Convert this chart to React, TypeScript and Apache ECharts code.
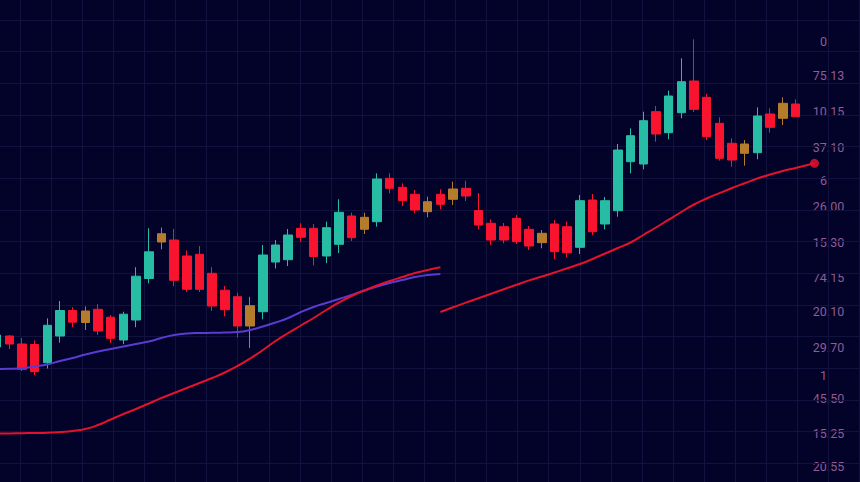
import React, { useEffect, useRef } from "react";
import * as echarts from "echarts";

// ---- data (prices on an arbitrary scale) ----
const sessions: string[] = Array.from({ length: 68 }, (_, i) => `S${i + 1}`);

const opens = [135, 146, 138, 137.5, 119.3, 146, 171.5, 159.5, 172.7, 164.8, 142, 162, 203.5, 240, 242, 226, 227.7, 208.7, 191.8, 185.3, 156, 170.3, 220, 222.3, 253.7, 253.7, 226, 237.7, 266, 252.7, 260.3, 303.7, 294.7, 287.7, 270.3, 287.7, 282.7, 293.7, 271.5, 258.7, 255.3, 263.7, 252.7, 239.3, 258, 255.3, 234.7, 282, 258, 271.3, 320.3, 318, 370.3, 349.3, 369.3, 401, 384.7, 358.7, 338.7, 328.7, 329.3, 368, 363.7, 378];
const closes = [147, 138, 112.7, 110.3, 156.7, 171.5, 159.8, 171, 151, 143.7, 167.8, 205.8, 230.2, 248.3, 201.7, 192.7, 192.7, 176, 172.3, 156, 176.3, 227, 237, 247, 244.7, 225.5, 254.3, 269.7, 244.3, 264.7, 303, 293.7, 281.3, 272, 280.3, 277.7, 293, 286, 257, 242, 242, 240.3, 236, 248.7, 230.3, 229.3, 281.3, 250.3, 281.3, 332, 346.3, 361.3, 348, 386, 400.3, 372.7, 345.3, 323.7, 322, 338, 366, 354.7, 378.7, 365.3];
const lows = [132, 133, 111, 107, 113.5, 139.3, 154.8, 152, 147, 139, 137.8, 154.8, 198.7, 232.7, 195.7, 190, 190, 171, 165.7, 144.5, 134, 162.7, 213.5, 216, 240.3, 216.5, 218.8, 229, 241, 248, 255.3, 288.7, 276, 268.7, 264.7, 272.7, 277, 281, 252.5, 237, 238.7, 238, 232, 233.7, 222.7, 224.7, 228, 247, 252.7, 265.3, 308.7, 312.7, 340.3, 342.7, 363.7, 370, 342, 321.3, 315.3, 316.3, 322.7, 349.3, 357, 365];
const highs = [151, 147, 144, 141.5, 163.7, 181, 174.8, 175.5, 177.8, 167, 170.3, 214.8, 253.7, 254.5, 253.2, 231.5, 236, 214.8, 196, 189.3, 185.2, 237, 242, 253, 258.7, 258, 260.3, 282.7, 269.3, 269.3, 308.7, 308.7, 298.7, 292, 285.3, 292.7, 300.3, 301.3, 289, 262.7, 259, 267, 256, 252, 262, 260.3, 287, 288, 285, 338, 353.7, 370.3, 376, 391.3, 423.7, 442.7, 388, 364.7, 343.7, 342, 374.7, 373.7, 384.7, 382.7];
// sessions drawn as neutral (gold) candles
const neutralSessions = [7, 13, 20, 29, 34, 36, 43, 59, 62];

// slow moving average (sessions 0..35)
const maSlow = [113, 113.2, 113.7, 115.5, 117.5, 121, 124, 127.5, 130.5, 133, 135.5, 138, 140.5, 144, 147, 148.5, 149, 149.2, 149.5, 150, 152, 155.5, 159.5, 164, 170, 175, 179, 183, 187, 191.5, 195.5, 199, 202, 205, 207, 208];
// fast moving average, first part (sessions 0..35)
const maFastA = [48.5, 48.6, 48.8, 49, 49.3, 50, 51, 53, 57, 62.5, 68, 73, 78.5, 84, 89, 94, 99, 104, 109.5, 116, 123.5, 132, 141, 149, 156.5, 164, 172, 179.5, 186, 191.5, 196.5, 201, 205, 209, 212, 214.7];
// fast moving average, second part: [session, value]
const maFastB: [number, number][] = [
  [35, 170], [36, 174.7], [37, 179.4], [38, 183.8], [39, 188.3], [40, 192.8], [41, 197.2], [42, 201.6], [43, 205.5], [44, 209.5],
  [45, 213.8], [46, 218], [47, 223], [48, 228.5], [49, 234], [50, 239.5], [51, 247], [52, 254.5], [53, 262.3], [54, 270],
  [55, 277.5], [56, 283.5], [57, 288.8], [58, 294], [59, 298.8], [60, 303.5], [61, 307.5], [62, 311], [63, 314], [64.5, 318.7],
];

// price scale texts on the right
const scaleLabels = ["0", "75.13", "10.15", "37.10", "6", "26.00", "15.30", "74.15", "20.10", "29.70", "1", "45.50", "15.25", "20.55"];
const scaleLabelY = [41, 75, 111.7, 147.7, 180.5, 206, 242.3, 277.7, 311.7, 347.7, 375.8, 398.3, 433.3, 466.7];

const UP = "#27bda4";
const DOWN = "#f8142e";
const NEUTRAL = "#b57c2b";
const BG = "#030228";
const GRIDLINE = "#12123e";

export default function App() {
  const ref = useRef<HTMLDivElement>(null);
  useEffect(() => {
    if (!ref.current) return;
    document.body.style.margin = "0";
    document.body.style.background = BG;
    const chart = echarts.init(ref.current, null, { renderer: "svg" });

    const slot = 12.68;
    const firstCenter = -3.4;
    const candleData = opens.map((o, i) => {
      const item: any = { value: [o, closes[i], lows[i], highs[i]] };
      if (neutralSessions.includes(i)) {
        item.itemStyle = { color: NEUTRAL, color0: NEUTRAL, borderColor: NEUTRAL, borderColor0: NEUTRAL };
      }
      return item;
    });

    const gx = 31.1;
    const gy = 31.66;

    const option: any = {
      animation: false,
      backgroundColor: BG,
      grid: [
        { left: firstCenter - slot / 2, top: 0, width: slot * sessions.length, height: 482, outerBoundsMode: "none", containLabel: false },
        { left: 20 - gx, top: 20 - gy, width: gx * 29, height: gy * 16, outerBoundsMode: "none", containLabel: false },
      ],
      xAxis: [
        { type: "category", gridIndex: 0, data: sessions, boundaryGap: true, show: false },
        { type: "value", gridIndex: 0, min: -0.5, max: sessions.length - 0.5, show: false },
        {
          type: "value", gridIndex: 1, min: 0, max: 29, interval: 1,
          axisLine: { show: false }, axisTick: { show: false }, axisLabel: { show: false },
          splitLine: { show: true, lineStyle: { color: GRIDLINE, width: 1 } },
        },
      ],
      yAxis: [
        { type: "value", gridIndex: 0, min: 0, max: 482, show: false },
        {
          type: "value", gridIndex: 1, min: 0, max: 16, interval: 1,
          axisLine: { show: false }, axisTick: { show: false }, axisLabel: { show: false },
          splitLine: { show: true, lineStyle: { color: GRIDLINE, width: 1 } },
        },
      ],
      series: [
        {
          type: "candlestick",
          xAxisIndex: 0,
          yAxisIndex: 0,
          data: candleData,
          barWidth: 9,
          itemStyle: { color: UP, color0: DOWN, borderColor: UP, borderColor0: DOWN, borderWidth: 1 },
        },
        {
          type: "line", xAxisIndex: 1, yAxisIndex: 0, smooth: true, symbol: "none",
          data: maSlow.map((v, i) => [i, v]),
          lineStyle: { color: "#5a3bd2", width: 2 },
        },
        {
          type: "line", xAxisIndex: 1, yAxisIndex: 0, smooth: true, symbol: "none",
          data: maFastA.map((v, i) => [i, v]),
          lineStyle: { color: "#e3122e", width: 2 },
        },
        {
          type: "line", xAxisIndex: 1, yAxisIndex: 0, smooth: true, symbol: "none",
          data: maFastB,
          lineStyle: { color: "#e3122e", width: 2 },
        },
        {
          type: "scatter", xAxisIndex: 1, yAxisIndex: 0,
          data: [maFastB[maFastB.length - 1]],
          symbolSize: 9,
          itemStyle: { color: "#f0142e" },
        },
      ],
      graphic: scaleLabels.map((t, k) => ({
        type: "text",
        x: t.length === 1 ? 823.5 : 828.5,
        y: scaleLabelY[k],
        style: {
          text: t,
          fill: "#8e5c96",
          font: "12.5px Roboto",
          textAlign: "center",
          textVerticalAlign: "middle",
          align: "center",
          verticalAlign: "middle",
        },
      })),
    };
    chart.setOption(option);
    return () => chart.dispose();
  }, []);
  return (
    <div
      ref={ref}
      style={{ position: "fixed", left: 0, top: 0, width: 860, height: 482 }}
    />
  );
}
